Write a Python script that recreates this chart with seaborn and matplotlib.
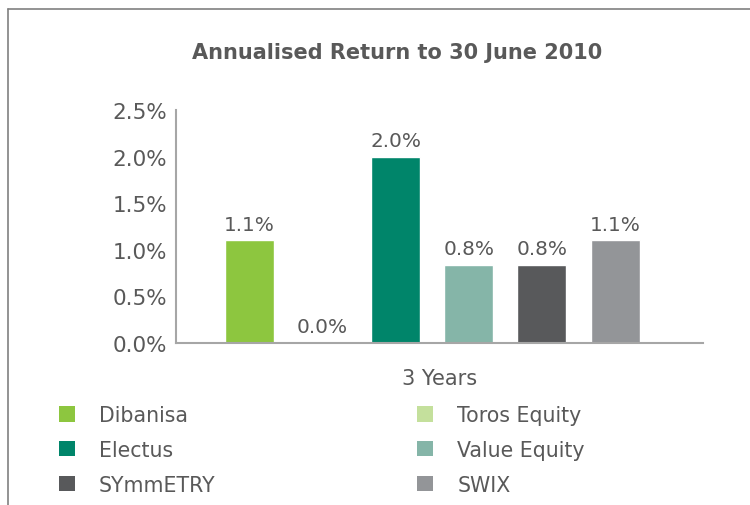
import matplotlib
matplotlib.use('Agg')
import matplotlib.pyplot as plt
from matplotlib.patches import Patch
from matplotlib.lines import Line2D
import pandas as pd
import seaborn as sns

# data
funds = ['Dibanisa', 'Toros Equity', 'Electus', 'Value Equity', 'SYmmETRY', 'SWIX']
returns = [1.1, 0.0, 2.0, 0.84, 0.84, 1.1]
labels = ['1.1%', '0.0%', '2.0%', '0.8%', '0.8%', '1.1%']
colors = ['#8dc63f', '#c4e09c', '#00856a', '#85b5a8', '#58595b', '#939598']
legend_order = ['Dibanisa', 'Electus', 'SYmmETRY', 'Toros Equity', 'Value Equity', 'SWIX']

txt = '#595959'

def main():
    sns.set_style('white')
    plt.rcParams['font.family'] = ['DejaVu Sans']

    df = pd.DataFrame({'fund': funds, 'ret': returns})
    pal = dict(zip(funds, colors))

    fig = plt.figure(figsize=(7.5, 5.06), dpi=100)
    ax = fig.add_axes([0.2347, 0.3202, 0.7026, 0.4604])

    sns.barplot(data=df, x='fund', y='ret', hue='fund', palette=pal,
                order=funds, width=0.67, saturation=1, legend=False, ax=ax)

    for cont, lab in zip(ax.containers, labels):
        ax.bar_label(cont, labels=[lab], padding=5, fontsize=14.4, color=txt)

    ax.set_ylim(0, 2.5)
    ax.set_yticks([0, 0.5, 1.0, 1.5, 2.0, 2.5])
    ax.set_yticklabels(['%.1f%%' % v for v in [0, 0.5, 1.0, 1.5, 2.0, 2.5]])
    ax.set_xlim(-1.0, 6.2)
    ax.set_xticks([])
    ax.set_xlabel('3 Years', fontsize=15, color=txt, labelpad=18)
    ax.set_ylabel('')
    ax.tick_params(axis='y', length=0, labelsize=15.5, labelcolor=txt, pad=6.5)

    for s in ['top', 'right']:
        ax.spines[s].set_visible(False)
    for s in ['left', 'bottom']:
        ax.spines[s].set_color('#a6a6a6')
        ax.spines[s].set_linewidth(1.5)

    fig.text(0.53, 0.895, 'Annualised Return to 30 June 2010', ha='center',
             va='center', fontsize=15, fontweight='bold', color=txt)

    handles = [Patch(facecolor=pal[f], edgecolor='none') for f in legend_order]
    fig.legend(handles, legend_order, ncol=2, loc='upper left',
               bbox_to_anchor=(0.054, 0.234), frameon=False, fontsize=14.8,
               labelcolor=txt, handlelength=0.78, handleheight=0.78,
               handletextpad=1.17, columnspacing=9.8, labelspacing=0.72)

    # outer frame (left and top)
    fig.add_artist(Line2D([0.011, 0.011], [0.0, 0.981], color='#808080', lw=1.2))
    fig.add_artist(Line2D([0.011, 1.0], [0.981, 0.981], color='#808080', lw=1.2))

    fig.savefig('out.png', dpi=100)

main()
